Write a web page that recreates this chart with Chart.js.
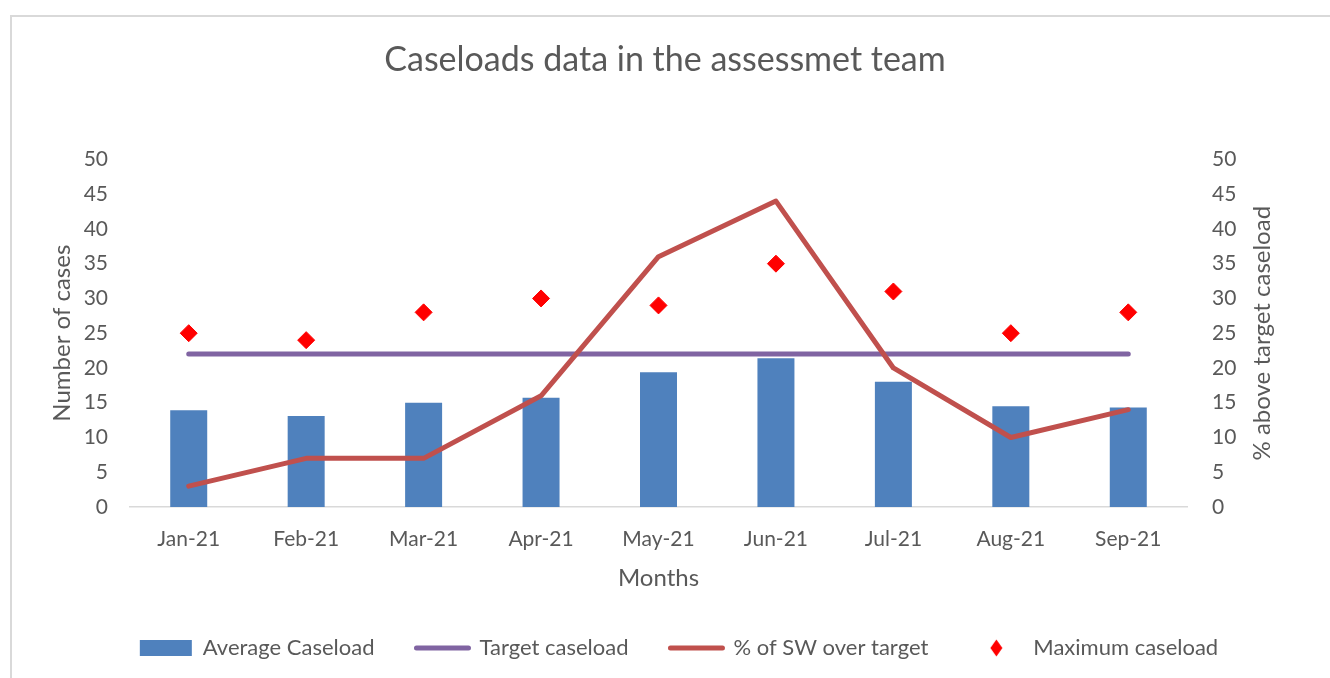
<!DOCTYPE html>
<html>
<head>
<meta charset="utf-8">
<script src="https://cdn.jsdelivr.net/npm/chart.js@4"></script>
<style>
  html, body { margin: 0; padding: 0; background: #ffffff; }
  #wrap { position: relative; width: 1330px; height: 678px; overflow: hidden; }
  #frame { position: absolute; left: 10px; top: 15px; width: 1340px; height: 700px; border-left: 2px solid #d9d9d9; border-top: 2px solid #d9d9d9; box-sizing: border-box; }
  canvas { position: absolute; left: 0; top: 0; }
</style>
</head>
<body>
<div id="wrap">
  <div id="frame"></div>
  <canvas id="c" width="1330" height="678"></canvas>
</div>
<script>
const months = ['Jan-21', 'Feb-21', 'Mar-21', 'Apr-21', 'May-21', 'Jun-21', 'Jul-21', 'Aug-21', 'Sep-21'];
const averageCaseload = [13.9, 13.1, 15.0, 15.7, 19.4, 21.4, 18.0, 14.5, 14.3];
const targetCaseload = [22, 22, 22, 22, 22, 22, 22, 22, 22];
const pctOverTarget = [3, 7, 7, 16, 36, 44, 20, 10, 14];
const maximumCaseload = [25, 24, 28, 30, 29, 35, 31, 25, 28];
const yTicks = [0, 5, 10, 15, 20, 25, 30, 35, 40, 45, 50];
const rightAxisTitle = '% above target caseload';

const FONT = "Lato, 'Open Sans', sans-serif";
const GREY = '#595959';

// small diamond marker used only in the legend
const legendDiamond = document.createElement('canvas');
legendDiamond.width = 13; legendDiamond.height = 18;
(function () {
  const g = legendDiamond.getContext('2d');
  g.fillStyle = '#ff0000';
  g.beginPath();
  g.moveTo(6.5, 0.5); g.lineTo(12.5, 9); g.lineTo(6.5, 17.5); g.lineTo(0.5, 9);
  g.closePath(); g.fill();
})();
const legendStyles = ['rect', 'line', 'line', legendDiamond];

const extras = {
  id: 'extras',
  afterLayout(chart) {
    if (chart.legend) { chart.legend.left += 14; chart.legend.right += 14; }
  },
  afterDraw(chart) {
    const ctx = chart.ctx;
    const a = chart.chartArea;
    ctx.save();
    ctx.fillStyle = GREY;
    ctx.font = "24px " + FONT;
    ctx.textAlign = 'center';
    ctx.textBaseline = 'middle';
    ctx.translate(1262, (a.top + a.bottom) / 2);
    ctx.rotate(-Math.PI / 2);
    ctx.fillText(rightAxisTitle, 0, 0);
    ctx.restore();
  }
};

new Chart(document.getElementById('c'), {
  data: {
    labels: months,
    datasets: [
      {
        type: 'bar', label: 'Average Caseload', data: averageCaseload, yAxisID: 'y',
        backgroundColor: '#4f81bd', borderColor: '#4f81bd', borderWidth: 0,
        categoryPercentage: 1, barPercentage: 0.315, order: 4
      },
      {
        type: 'line', label: 'Target caseload', data: targetCaseload, yAxisID: 'y',
        borderColor: '#8064a2', backgroundColor: '#8064a2', borderWidth: 5,
        borderCapStyle: 'round', borderJoinStyle: 'round', pointRadius: 0, pointHoverRadius: 0, order: 3
      },
      {
        type: 'line', label: '% of SW over target', data: pctOverTarget, yAxisID: 'y1',
        borderColor: '#c0504d', backgroundColor: '#c0504d', borderWidth: 5,
        borderCapStyle: 'round', borderJoinStyle: 'round', pointRadius: 0, pointHoverRadius: 0, order: 1
      },
      {
        type: 'line', label: 'Maximum caseload', data: maximumCaseload, yAxisID: 'y',
        showLine: false, borderColor: '#ff0000', backgroundColor: '#ff0000',
        pointStyle: 'rectRot', pointRadius: 8.5, pointBorderWidth: 1,
        pointBackgroundColor: '#ff0000', pointBorderColor: '#ff0000', order: 2
      }
    ]
  },
  options: {
    responsive: false,
    animation: false,
    layout: { padding: { left: 0, right: 0, top: 0, bottom: 9 } },
    plugins: {
      tooltip: { enabled: false },
      title: {
        display: true,
        text: 'Caseloads data in the assessmet team',
        color: GREY,
        font: { family: FONT, size: 34, weight: 'normal', lineHeight: 1.2 },
        padding: { top: 40, bottom: 78.6 }
      },
      legend: {
        position: 'bottom',
        labels: {
          color: GREY,
          font: { family: FONT, size: 22 },
          usePointStyle: true,
          pointStyleWidth: 52,
          boxHeight: 16,
          padding: 42,
          sort: (a, b) => a.datasetIndex - b.datasetIndex,
          generateLabels(chart) {
            const items = Chart.defaults.plugins.legend.labels.generateLabels(chart);
            items.forEach(it => { it.pointStyle = legendStyles[it.datasetIndex]; it.lineCap = 'round'; });
            return items;
          }
        }
      }
    },
    scales: {
      x: {
        offset: true,
        grid: { display: false },
        border: { display: true, color: '#d9d9d9', width: 1.5 },
        ticks: { color: GREY, font: { family: FONT, size: 21 }, padding: 12 },
        title: {
          display: true, text: 'Months', color: GREY,
          font: { family: FONT, size: 24 }, padding: { top: 0, bottom: 2.6 }
        },
        afterFit(s) { s.height = 88; }
      },
      y: {
        position: 'left', min: 0, max: 50,
        grid: { display: false },
        border: { display: false },
        afterBuildTicks(s) { s.ticks = yTicks.map(v => ({ value: v })); },
        ticks: { color: GREY, font: { family: FONT, size: 21 }, padding: 14 },
        title: {
          display: true, text: 'Number of cases', color: GREY,
          font: { family: FONT, size: 24 }, padding: { top: 47.6, bottom: 0 }
        },
        afterFit(s) { s.width = 130; }
      },
      y1: {
        position: 'right', min: 0, max: 50,
        grid: { display: false },
        border: { display: false },
        afterBuildTicks(s) { s.ticks = yTicks.map(v => ({ value: v })); },
        ticks: { color: GREY, font: { family: FONT, size: 21 }, padding: 17 },
        title: { display: false },
        afterFit(s) { s.width = 143; }
      }
    }
  },
  plugins: [extras]
});
</script>
</body>
</html>
